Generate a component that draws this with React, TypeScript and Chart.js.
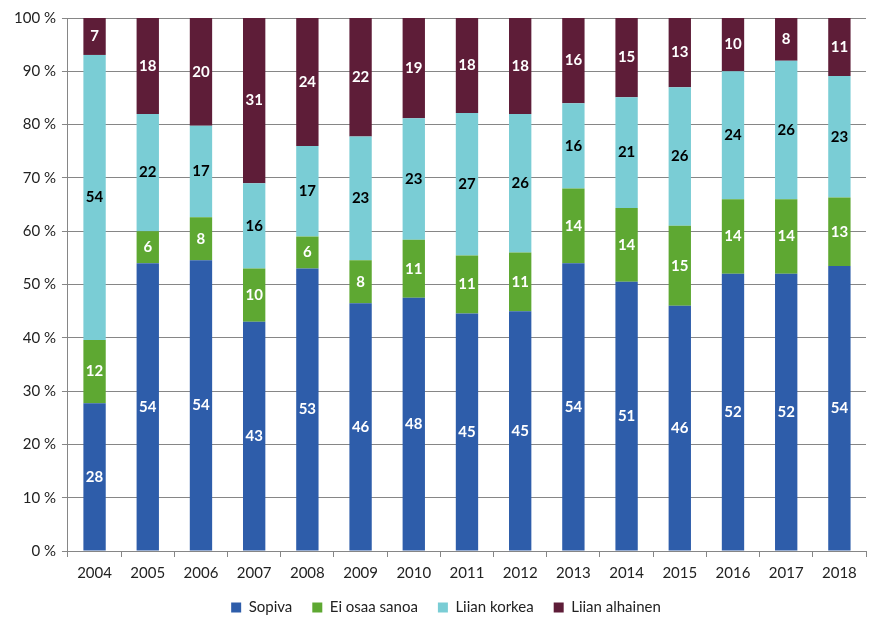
import React, { useEffect, useRef } from "react";
import { Chart, registerables } from "chart.js";

Chart.register(...registerables);

const years = ["2004","2005","2006","2007","2008","2009","2010","2011","2012","2013","2014","2015","2016","2017","2018"];
const sopiva = [28,54,54,43,53,46,48,45,45,54,51,46,52,52,54];
const eiOsaa = [12,6,8,10,6,8,11,11,11,14,14,15,14,14,13];
const liianKorkea = [54,22,17,16,17,23,23,27,26,16,21,26,24,26,23];
const liianAlhainen = [7,18,20,31,24,22,19,18,18,16,15,13,10,8,11];

const seriesNames = ["Sopiva", "Ei osaa sanoa", "Liian korkea", "Liian alhainen"];
const seriesValues = [sopiva, eiOsaa, liianKorkea, liianAlhainen];
const seriesColors = ["#2E5DAA", "#5EA832", "#7ACDD5", "#5E1D38"];
const labelColors = ["#ffffff", "#ffffff", "#000000", "#ffffff"];

const FONT = "Lato, 'Open Sans', sans-serif";

const valueLabels = {
  id: "valueLabels",
  afterDatasetsDraw(chart: any) {
    const ctx = chart.ctx;
    ctx.save();
    ctx.font = `bold 15px ${FONT}`;
    ctx.textAlign = "center";
    ctx.textBaseline = "middle";
    chart.data.datasets.forEach((ds: any, i: number) => {
      const meta = chart.getDatasetMeta(i);
      meta.data.forEach((el: any, j: number) => {
        const raw = ds.raw[j];
        const y = (el.y + el.base) / 2;
        ctx.fillStyle = labelColors[i];
        ctx.fillText(String(raw), el.x, y);
      });
    });
    ctx.restore();
  },
};

const legendShift = {
  id: "legendShift",
  afterLayout(chart: any) {
    if (chart.legend) {
      chart.legend.left += 9;
      chart.legend.right += 9;
    }
  },
};

export default function App() {
  const ref = useRef<HTMLCanvasElement>(null);
  useEffect(() => {
    document.body.style.margin = "0";
    const totals = years.map((_, j) => seriesValues.reduce((s, arr) => s + arr[j], 0));
    const chart = new Chart(ref.current!, {
      type: "bar",
      data: {
        labels: years,
        datasets: seriesValues.map((arr, i) => ({
          label: seriesNames[i],
          data: arr.map((v, j) => (v / totals[j]) * 100),
          raw: arr,
          backgroundColor: seriesColors[i],
          borderWidth: 0,
          categoryPercentage: 1,
          barPercentage: 0.42,
        })) as any,
      },
      options: {
        animation: false,
        responsive: false,
        layout: { padding: { top: 18, right: 20, left: 8, bottom: 8 } },
        plugins: {
          legend: {
            position: "bottom",
            labels: {
              font: { family: FONT, size: 15 },
              color: "#222",
              boxWidth: 10,
              boxHeight: 10,
              padding: 20,
            },
          },
          tooltip: { enabled: false },
        },
        scales: {
          x: {
            stacked: true,
            grid: { display: true, drawOnChartArea: false, color: "#868686", tickLength: 6 },
            border: { color: "#868686" },
            ticks: { font: { family: FONT, size: 15 }, color: "#222", padding: 7 },
            afterFit: (scale: any) => {
              scale.height = 29;
            },
          },
          y: {
            stacked: true,
            min: 0,
            max: 100,
            grid: { color: "#868686", tickLength: 6 },
            border: { color: "#868686" },
            ticks: {
              stepSize: 10,
              font: { family: FONT, size: 15 },
              color: "#222",
              padding: 6,
              callback: (v: any) => `${v} %`,
            },
          },
        },
      },
      plugins: [valueLabels, legendShift],
    });
    return () => chart.destroy();
  }, []);
  return (
    <div style={{ width: 886, height: 633 }}>
      <canvas ref={ref} width={886} height={633} />
    </div>
  );
}
